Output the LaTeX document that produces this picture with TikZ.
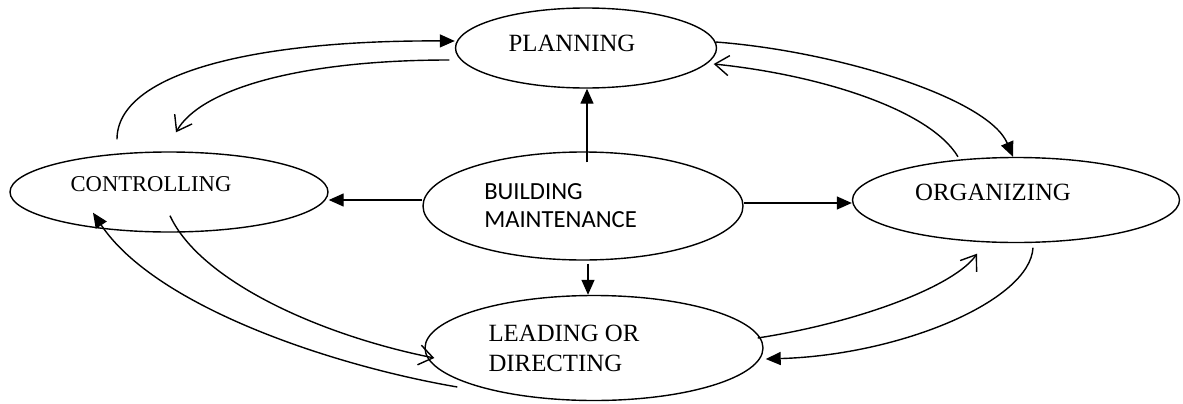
\documentclass[tikz,border=0pt]{standalone}
\usepackage{fontspec}
\setmainfont{Liberation Serif}
\newfontfamily\bmfont{Carlito}
\usetikzlibrary{arrows.meta, shapes.geometric}
\tikzset{%
	stage/.style 2 args = {ellipse, draw, inner sep = 0pt, minimum width = #1, minimum height = #2},
	lbl/.style = {inner sep = 0pt, align = left, font = \fontsize{12.4}{15}\selectfont},
	tri/.style = {-{Triangle[length = 7.5pt, width = 6.5pt]}},
	barb/.style = {-{Straight Barb[length = 7pt, width = 10pt]}}
}
\begin{document}
\begin{tikzpicture}[x = 0.5pt, y = 0.5pt, line width = 0.7pt]
			\useasboundingbox (0,0) rectangle (1183,403);
			\node [stage = {130.5pt}{40pt}] (plan) at (586,355) {};
			\node [stage = {159pt}{40pt}] (ctrl) at (169,211) {};
			\node [stage = {160pt}{54pt}] (bm) at (583,197) {};
			\node [stage = {163.5pt}{42.5pt}] (org) at (1016,203) {};
			\node [stage = {169pt}{52.5pt}] (lead) at (594,55) {};
			\node [lbl] (plan-t) at ([shift = {(-14,5)}]plan.center) {PLANNING};
			\node [lbl, font = \fontsize{11.3}{14}\selectfont] (ctrl-t) at ([shift = {(-18,8)}]ctrl.center) {CONTROLLING};
			\node [lbl, font = \bmfont\fontsize{12.3}{14}\selectfont] (bm-t) at ([shift = {(-22.5,0)}]bm.center) {BUILDING\\MAINTENANCE};
			\node [lbl] (org-t) at ([shift = {(-23,8)}]org.center) {ORGANIZING};
			\node [lbl] (lead-t) at ([shift = {(-30,0)}]lead.center) {LEADING OR\\DIRECTING};
			% straight ones out of the middle
			\draw [tri] ([shift = {(4,-11)}]bm.north) -- ([shift = {(1,0)}]plan.south);
			\draw [tri] ([shift = {(0,6)}]bm.west) -- ([shift = {(0,-8)}]ctrl.east);
			\draw [tri] ([shift = {(0,3)}]bm.east) -- ([shift = {(0,-3)}]org.west);
			\draw [tri] ([shift = {(5,-3)}]bm.south) -- ([shift = {(-6,0)}]lead.north);
			% the cycle round the outside
			\draw [tri] ([shift = {(-52,12)}]ctrl.north) .. controls +(0,65) and +(-205,1) .. ([shift = {(0,7)}]plan.west);
			\draw [barb] ([shift = {(-5.5,-12)}]plan.west) .. controls +(-150,0) and +(24,43) .. ([shift = {(7,19)}]ctrl.north);
			\draw [tri] ([shift = {(-1.5,6)}]plan.east) .. controls +(120,-9) and +(-25,59) .. ([shift = {(-3,0)}]org.north);
			\draw [barb] ([shift = {(-58,0)}]org.north) .. controls +(-28,47) and +(107,-11) .. ([shift = {(-3.5,-16)}]plan.east);
			\draw [barb] ([shift = {(-6,10)}]lead.east) .. controls +(103,16) and +(-22,-32) .. ([shift = {(-39,-10.5)}]org.south);
			\draw [tri] ([shift = {(17,-4.5)}]org.south) .. controls +(-3,-53) and +(135,4) .. ([shift = {(2,-11)}]lead.east);
			\draw [barb] ([shift = {(1,17)}]ctrl.south) .. controls +(30,-65) and +(-115,23) .. ([shift = {(10,-10)}]lead.west);
			\draw [tri] ([shift = {(33,-39)}]lead.west) .. controls +(-128,22) and +(62,-93) .. ([shift = {(-76,20)}]ctrl.south);
\end{tikzpicture}
\end{document}
